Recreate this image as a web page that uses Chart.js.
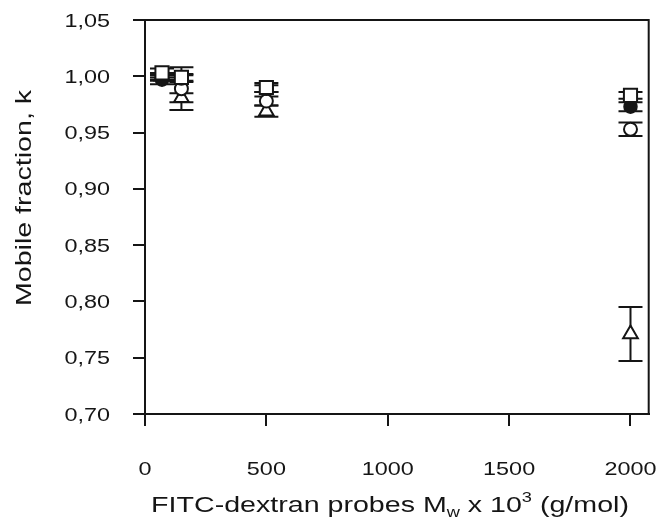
<!DOCTYPE html>
<html>
<head>
<meta charset="utf-8">
<script src="https://cdn.jsdelivr.net/npm/chart.js@4"></script>
<style>
  body { margin: 0; background: #fff; }
  canvas { display: block; }
</style>
</head>
<body>
<canvas id="chart" width="660" height="520"></canvas>
<script>
// ── Data ─────────────────────────────────────────────────────
const probeMw = [70, 150, 500, 2000];
const xTicks = [0, 500, 1000, 1500, 2000];
const yTicks = [0.70, 0.75, 0.80, 0.85, 0.90, 0.95, 1.00, 1.05];

const openSquare      = [1.003, 0.999, 0.990, 0.983];
const openSquareErr   = [0.004, 0.003, 0.004, 0.003];
const filledCircle    = [0.997, 0.998, 0.989, 0.973];
const filledCircleErr = [0.004, 0.003, 0.003, 0.004];
const openCircle      = [0.999, 0.989, 0.978, 0.953];
const openCircleErr   = [0.003, 0.019, 0.004, 0.006];
const openTriangle    = [1.000, 0.981, 0.969, 0.771];
const openTriangleErr = [0.003, 0.004, 0.005, 0.024];

const INK = '#151515';
const SX = 1.3; // the original font is drawn extended
const FONT = '"Liberation Sans", Arial, sans-serif';

const pts = vals => vals.map((v, i) => ({ x: probeMw[i], y: v }));
const fmt = v => v.toFixed(2).replace('.', ',');

function wideText(ctx, text, x, y, align) {
    ctx.save();
    ctx.translate(x, y);
    ctx.scale(SX, 1);
    ctx.textAlign = align;
    ctx.fillText(text, 0, 0);
    ctx.restore();
}

// ── Error bars (drawn under the markers) ─────────────────────
const errorBars = {
    id: 'errorBars',
    beforeDatasetsDraw(chart) {
        const { ctx, scales: { x, y } } = chart;
        ctx.save();
        ctx.strokeStyle = INK;
        ctx.lineWidth = 2;
        chart.data.datasets.forEach(ds => {
            ds.data.forEach((p, i) => {
                const e = ds.errors[i];
                const px = x.getPixelForValue(p.x);
                const top = y.getPixelForValue(p.y + e);
                const bot = y.getPixelForValue(p.y - e);
                ctx.beginPath();
                ctx.moveTo(px, top); ctx.lineTo(px, bot);
                ctx.moveTo(px - 12, top); ctx.lineTo(px + 12, top);
                ctx.moveTo(px - 12, bot); ctx.lineTo(px + 12, bot);
                ctx.stroke();
            });
        });
        ctx.restore();
    },
};

// ── Frame + wide labels ──────────────────────────────────────
const frameAndText = {
    id: 'frameAndText',
    afterDraw(chart) {
        const { ctx, chartArea: a, scales: { x, y } } = chart;
        ctx.save();
        ctx.strokeStyle = INK;
        ctx.lineWidth = 2;
        ctx.beginPath();
        ctx.moveTo(a.left, a.top); ctx.lineTo(a.right, a.top); ctx.lineTo(a.right, a.bottom);
        ctx.stroke();

        ctx.fillStyle = INK;
        ctx.textBaseline = 'alphabetic';
        ctx.font = `18px ${FONT}`;
        yTicks.forEach(v => wideText(ctx, fmt(v), 110, y.getPixelForValue(v) + 6.5, 'right'));
        xTicks.forEach(v => wideText(ctx, String(v), x.getPixelForValue(v), 475, 'center'));

        // y title
        ctx.save();
        ctx.translate(25, 198);
        ctx.rotate(-Math.PI / 2);
        ctx.font = `22px ${FONT}`;
        ctx.textBaseline = 'middle';
        wideText(ctx, 'Mobile fraction, k', 0, 0, 'center');
        ctx.restore();

        // x title with subscript / superscript
        const parts = [
            { t: 'FITC-dextran probes M', size: 22, dy: 0 },
            { t: 'w', size: 14, dy: 5 },
            { t: ' x 10', size: 22, dy: 0 },
            { t: '3', size: 14, dy: -10 },
            { t: ' (g/mol)', size: 22, dy: 0 },
        ];
        let total = 0;
        parts.forEach(p => {
            ctx.font = `${p.size}px ${FONT}`;
            p.w = ctx.measureText(p.t).width * SX;
            total += p.w;
        });
        let cx = 390 - total / 2;
        parts.forEach(p => {
            ctx.font = `${p.size}px ${FONT}`;
            wideText(ctx, p.t, cx, 512 + p.dy, 'left');
            cx += p.w;
        });
        ctx.restore();
    },
};

// ── Chart ────────────────────────────────────────────────────
const axisGrid = {
    display: true,
    drawOnChartArea: false,
    drawTicks: true,
    tickLength: 12,
    color: INK,
    lineWidth: 2,
};

// dataset 0 is painted last, so the square sits on top
new Chart(document.getElementById('chart'), {
    type: 'scatter',
    data: {
        datasets: [
            {
                data: pts(openSquare), errors: openSquareErr,
                pointStyle: 'rect', pointRadius: 9.3,
                backgroundColor: '#fff', borderColor: INK, borderWidth: 2,
            },
            {
                data: pts(filledCircle), errors: filledCircleErr,
                pointStyle: 'circle', pointRadius: 6.5,
                backgroundColor: INK, borderColor: INK, borderWidth: 1.5,
            },
            {
                data: pts(openCircle), errors: openCircleErr,
                pointStyle: 'circle', pointRadius: 6.5,
                backgroundColor: '#fff', borderColor: INK, borderWidth: 2,
            },
            {
                data: pts(openTriangle), errors: openTriangleErr,
                pointStyle: 'triangle', pointRadius: 8.5,
                backgroundColor: '#fff', borderColor: INK, borderWidth: 2,
            },
        ],
    },
    options: {
        responsive: false,
        animation: false,
        layout: { padding: { top: 20, right: 9, left: 0, bottom: 0 } },
        scales: {
            x: {
                type: 'linear',
                min: 0,
                max: 2075,
                afterBuildTicks: s => { s.ticks = xTicks.map(v => ({ value: v })); },
                afterFit: s => { s.height = 106; },
                ticks: { display: false },
                grid: axisGrid,
                border: { display: true, color: INK, width: 2 },
            },
            y: {
                min: 0.70,
                max: 1.05,
                afterBuildTicks: s => { s.ticks = yTicks.map(v => ({ value: v })); },
                afterFit: s => { s.width = 145; },
                ticks: { display: false },
                grid: axisGrid,
                border: { display: true, color: INK, width: 2 },
            },
        },
        plugins: {
            legend: { display: false },
            tooltip: { enabled: false },
        },
    },
    plugins: [errorBars, frameAndText],
});
</script>
</body>
</html>
